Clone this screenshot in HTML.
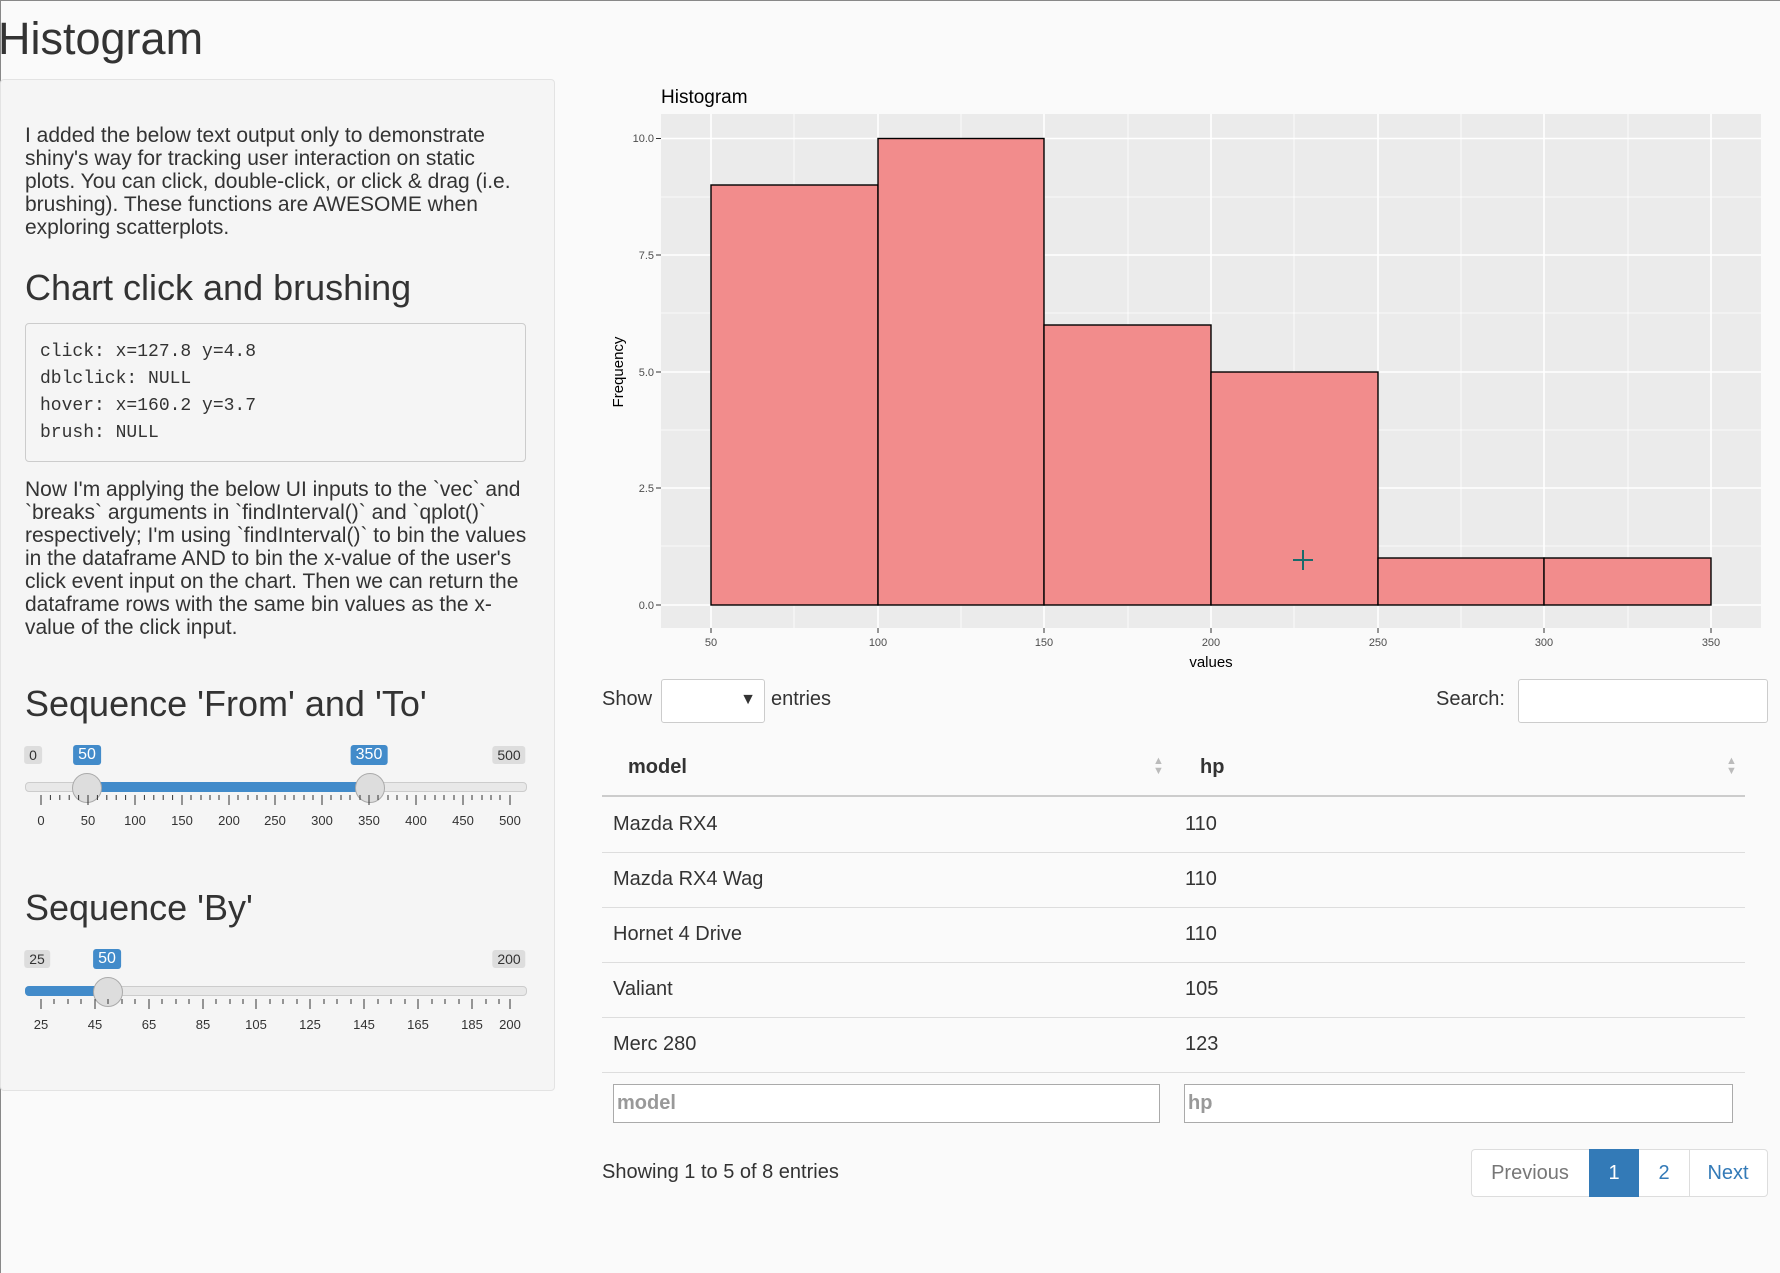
<!DOCTYPE html>
<html><head><meta charset="utf-8"><style>
body{margin:0;width:1780px;height:1273px;background:#fafafa;font-family:"Liberation Sans",sans-serif;color:#333;position:relative;overflow:hidden}
.a{position:absolute;white-space:nowrap}
.p{font-size:21px;line-height:23px;white-space:normal}
h3{position:absolute;margin:0;font-weight:normal;font-size:36px;white-space:nowrap}
.lbl{position:absolute;font-size:14px;padding:1px 5px;border-radius:3px;background:#ddd;color:#333;transform:translateX(-50%)}
.lbl.b{background:#428bca;color:#fff;font-size:16px}
.tk{position:absolute;font-size:13px;transform:translateX(-50%)}
.row{position:absolute;left:602px;width:1143px;border-bottom:1px solid #ddd;height:55px}
.row span{position:absolute;top:16px;font-size:20px}
</style></head><body>
<div class="a" style="left:0;top:0;width:1780px;height:1px;background:#888"></div>
<div class="a" style="left:0;top:0;width:1px;height:1273px;background:#888"></div>
<div class="a" style="left:-2px;top:13px;font-size:45px">Histogram</div>
<div class="a" style="left:0;top:79px;width:553px;height:1010px;background:#f5f5f5;border:1px solid #e3e3e3;border-radius:4px"></div>
<div class="a p" style="left:25px;top:124px;width:495px">I added the below text output only to demonstrate shiny's way for tracking user interaction on static plots. You can click, double-click, or click &amp; drag (i.e. brushing). These functions are AWESOME when exploring scatterplots.</div>
<h3 style="left:25px;top:267px">Chart click and brushing</h3>
<div class="a" style="left:25px;top:323px;width:499px;height:137px;border:1px solid #ccc;border-radius:4px;background:#f5f5f5"></div>
<div class="a" style="left:40px;top:339px;font-family:'Liberation Mono',monospace;font-size:18px;line-height:27px;white-space:pre">click: x=127.8 y=4.8
dblclick: NULL
hover: x=160.2 y=3.7
brush: NULL</div>
<div class="a p" style="left:25px;top:478px;width:510px">Now I'm applying the below UI inputs to the `vec` and `breaks` arguments in `findInterval()` and `qplot()` respectively; I'm using `findInterval()` to bin the values in the dataframe AND to bin the x-value of the user's click event input on the chart. Then we can return the dataframe rows with the same bin values as the x-value of the click input.</div>
<h3 style="left:25px;top:683px">Sequence 'From' and 'To'</h3>
<span class="lbl" style="left:33px;top:746px">0</span>
<span class="lbl b" style="left:87px;top:745px">50</span>
<span class="lbl b" style="left:369px;top:745px">350</span>
<span class="lbl" style="left:509px;top:746px">500</span>
<div class="a" style="left:25px;top:782px;width:500px;height:8px;border-radius:4px;background:#e8e8e8;border:1px solid #ccc"></div>
<div class="a" style="left:87px;top:782px;width:282px;height:10px;background:#428bca"></div>
<div class="a" style="left:72px;top:773px;width:28px;height:28px;border-radius:50%;background:#ddd;border:1px solid #aaa"></div>
<div class="a" style="left:355px;top:773px;width:28px;height:28px;border-radius:50%;background:#ddd;border:1px solid #aaa"></div>
<svg class="a" style="left:0;top:795px" width="560" height="20">
<g stroke="#333" stroke-width="1">
<path d="M41 0v10M88 0v10M135 0v10M182 0v10M229 0v10M275 0v10M322 0v10M369 0v10M416 0v10M463 0v10M510 0v10"/>
<path d="M50.4 0v5M59.8 0v5M69.2 0v5M78.6 0v5M97.4 0v5M106.8 0v5M116.2 0v5M125.6 0v5M144.4 0v5M153.8 0v5M163.2 0v5M172.6 0v5M191 0v5M201 0v5M210 0v5M219 0v5M238 0v5M248 0v5M257 0v5M266 0v5M285 0v5M294 0v5M304 0v5M313 0v5M331 0v5M341 0v5M350 0v5M360 0v5M378 0v5M388 0v5M397 0v5M407 0v5M425 0v5M435 0v5M444 0v5M454 0v5M472 0v5M482 0v5M491 0v5M500 0v5"/></g></svg>
<div class="tk" style="left:41px;top:813px">0</div><div class="tk" style="left:88px;top:813px">50</div><div class="tk" style="left:135px;top:813px">100</div><div class="tk" style="left:182px;top:813px">150</div><div class="tk" style="left:229px;top:813px">200</div><div class="tk" style="left:275px;top:813px">250</div><div class="tk" style="left:322px;top:813px">300</div><div class="tk" style="left:369px;top:813px">350</div><div class="tk" style="left:416px;top:813px">400</div><div class="tk" style="left:463px;top:813px">450</div><div class="tk" style="left:510px;top:813px">500</div>
<h3 style="left:25px;top:887px">Sequence 'By'</h3>
<span class="lbl" style="left:37px;top:950px">25</span>
<span class="lbl b" style="left:107px;top:949px">50</span>
<span class="lbl" style="left:509px;top:950px">200</span>
<div class="a" style="left:25px;top:986px;width:500px;height:8px;border-radius:4px;background:#e8e8e8;border:1px solid #ccc"></div>
<div class="a" style="left:25px;top:986px;width:82px;height:10px;border-radius:4px 0 0 4px;background:#428bca"></div>
<div class="a" style="left:93px;top:977px;width:28px;height:28px;border-radius:50%;background:#ddd;border:1px solid #aaa"></div>
<svg class="a" style="left:0;top:999px" width="560" height="20">
<g stroke="#333"><path d="M41 0v10M95 0v10M149 0v10M203 0v10M256 0v10M310 0v10M364 0v10M418 0v10M472 0v10M510 0v10"/>
<path d="M54 0v5M68 0v5M81 0v5M108 0v5M122 0v5M135 0v5M162 0v5M176 0v5M189 0v5M216 0v5M230 0v5M243 0v5M270 0v5M283 0v5M297 0v5M324 0v5M337 0v5M351 0v5M378 0v5M391 0v5M405 0v5M432 0v5M445 0v5M459 0v5M486 0v5M499 0v5"/></g></svg>
<div class="tk" style="left:41px;top:1017px">25</div><div class="tk" style="left:95px;top:1017px">45</div><div class="tk" style="left:149px;top:1017px">65</div><div class="tk" style="left:203px;top:1017px">85</div><div class="tk" style="left:256px;top:1017px">105</div><div class="tk" style="left:310px;top:1017px">125</div><div class="tk" style="left:364px;top:1017px">145</div><div class="tk" style="left:418px;top:1017px">165</div><div class="tk" style="left:472px;top:1017px">185</div><div class="tk" style="left:510px;top:1017px">200</div>

<svg class="a" style="left:0;top:0" width="1780" height="680" font-family="Liberation Sans, sans-serif">
<text x="661" y="103" font-size="19" fill="#000">Histogram</text>
<rect x="661" y="114" width="1100" height="514" fill="#ebebeb"/>
<g stroke="#fff" stroke-width="0.8">
<path d="M794 114v514M961 114v514M1128 114v514M1294 114v514M1461 114v514M1628 114v514M661 546H1761M661 430H1761M661 313H1761M661 197H1761"/></g>
<g stroke="#fff" stroke-width="1.6">
<path d="M711 114v514M878 114v514M1044 114v514M1211 114v514M1378 114v514M1544 114v514M1711 114v514M661 605H1761M661 488H1761M661 372H1761M661 255H1761M661 138.5H1761"/></g>
<g fill="#f28c8c" stroke="#000" stroke-width="1.4">
<rect x="711" y="185" width="167" height="420"/><rect x="878" y="138.5" width="166" height="466.5"/><rect x="1044" y="325" width="167" height="280"/><rect x="1211" y="372" width="167" height="233"/><rect x="1378" y="558" width="166" height="47"/><rect x="1544" y="558" width="167" height="47"/></g>
<path d="M1303 550v20M1293 560h20" stroke="#1a6b6b" stroke-width="2"/>
<g font-size="11" fill="#4d4d4d" text-anchor="end"><text x="654" y="609">0.0</text><text x="654" y="492">2.5</text><text x="654" y="376">5.0</text><text x="654" y="259">7.5</text><text x="654" y="142">10.0</text></g>
<g stroke="#333"><path d="M656 605h5M656 488h5M656 372h5M656 255h5M656 138.5h5M711 628v5M878 628v5M1044 628v5M1211 628v5M1378 628v5M1544 628v5M1711 628v5"/></g>
<g font-size="11" fill="#4d4d4d" text-anchor="middle"><text x="711" y="646">50</text><text x="878" y="646">100</text><text x="1044" y="646">150</text><text x="1211" y="646">200</text><text x="1378" y="646">250</text><text x="1544" y="646">300</text><text x="1711" y="646">350</text></g>
<text x="1211" y="667" font-size="15" text-anchor="middle" fill="#000">values</text>
<text transform="translate(623,372) rotate(-90)" font-size="15" text-anchor="middle" fill="#000">Frequency</text>
</svg>

<div class="a" style="left:602px;top:688px;font-size:20px">Show</div>
<div class="a" style="left:661px;top:679px;width:102px;height:42px;border:1px solid #ccc;border-radius:3px;background:#fff"><span style="position:absolute;right:8px;top:11px;font-size:16px">▼</span></div>
<div class="a" style="left:771px;top:688px;font-size:20px">entries</div>
<div class="a" style="left:1436px;top:688px;font-size:20px">Search:</div>
<div class="a" style="left:1518px;top:679px;width:248px;height:42px;border:1px solid #ccc;border-radius:3px;background:#fff"></div>
<div class="a" style="left:602px;top:741px;width:1143px;height:54px;border-bottom:2px solid #ccc"></div>
<div class="a" style="left:628px;top:756px;font-size:20px;font-weight:bold">model</div>
<div class="a" style="left:1200px;top:756px;font-size:20px;font-weight:bold">hp</div>
<div class="a" style="left:1153px;top:756px;font-size:11px;color:#bbb;line-height:10px">▲<br>▼</div>
<div class="a" style="left:1726px;top:756px;font-size:11px;color:#bbb;line-height:10px">▲<br>▼</div>
<div class="row" style="top:797px"><span style="left:11px">Mazda RX4</span><span style="left:583px">110</span></div>
<div class="row" style="top:852px"><span style="left:11px">Mazda RX4 Wag</span><span style="left:583px">110</span></div>
<div class="row" style="top:907px"><span style="left:11px">Hornet 4 Drive</span><span style="left:583px">110</span></div>
<div class="row" style="top:962px"><span style="left:11px">Valiant</span><span style="left:583px">105</span></div>
<div class="row" style="top:1017px"><span style="left:11px">Merc 280</span><span style="left:583px">123</span></div>
<div class="a" style="left:613px;top:1084px;width:545px;height:37px;border:1px solid #aaa;background:#fff;font-size:20px;font-weight:bold;color:#999;line-height:37px;text-indent:3px">model</div>
<div class="a" style="left:1184px;top:1084px;width:547px;height:37px;border:1px solid #aaa;background:#fff;font-size:20px;font-weight:bold;color:#999;line-height:37px;text-indent:3px">hp</div>
<div class="a" style="left:602px;top:1161px;font-size:20px">Showing 1 to 5 of 8 entries</div>
<div class="a" style="left:1471px;top:1149px;width:295px;height:46px;border:1px solid #ddd;border-radius:4px;background:#fff"></div>
<div class="a" style="left:1471px;top:1149px;width:118px;height:48px;line-height:48px;text-align:center;font-size:20px;color:#777">Previous</div>
<div class="a" style="left:1589px;top:1149px;width:50px;height:48px;line-height:48px;text-align:center;font-size:20px;color:#fff;background:#337ab7">1</div>
<div class="a" style="left:1639px;top:1149px;width:50px;height:48px;line-height:48px;text-align:center;font-size:20px;color:#337ab7;border-right:1px solid #ddd">2</div>
<div class="a" style="left:1689px;top:1149px;width:78px;height:48px;line-height:48px;text-align:center;font-size:20px;color:#337ab7">Next</div>
</body></html>
